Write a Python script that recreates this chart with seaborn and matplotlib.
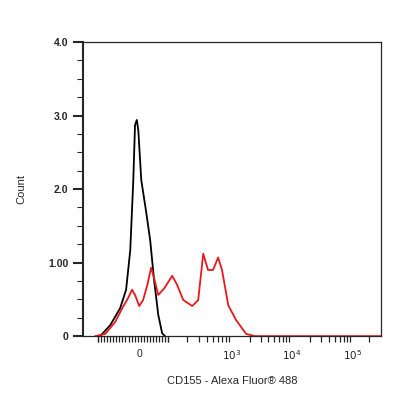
import numpy as np
import pandas as pd
import matplotlib
matplotlib.use("Agg")
import matplotlib.pyplot as plt
import seaborn as sns

# Channel positions on the display scale (0-100 across the axis)
control_x = [5.7, 9.1, 12.4, 14.4, 15.8, 16.8, 17.4, 18.0, 18.5, 19.5, 21.1, 22.5, 23.8, 25.2, 26.5, 27.5]
control_y = [0, 0.15, 0.38, 0.63, 1.17, 2.1, 2.87, 2.94, 2.8, 2.12, 1.7, 1.3, 0.76, 0.29, 0.04, 0]
stained_x = [4.0, 7.4, 10.7, 13.1, 15.1, 16.4, 17.4, 18.8, 20.1, 21.5, 22.8, 23.8, 25.2, 27.2, 29.9,
             31.5, 33.6, 36.6, 38.6, 40.3, 41.9, 43.6, 45.3, 46.6, 48.7, 51.3, 54.7, 57.7, 100]
stained_y = [0, 0.03, 0.19, 0.38, 0.52, 0.63, 0.56, 0.41, 0.49, 0.69, 0.93, 0.79, 0.56, 0.65, 0.82,
             0.7, 0.49, 0.41, 0.49, 1.12, 0.9, 0.9, 1.07, 0.9, 0.42, 0.22, 0.03, 0, 0]

x_label_pos = [18.8, 50.0, 70.1, 90.6]
x_labels = ["0", "$10^3$", "$10^4$", "$10^5$"]
y_ticks = [0, 1, 2, 3, 4]
y_labels = ["0", "1.00", "2.0", "3.0", "4.0"]

sns.set_style("ticks")
plt.rcParams["font.family"] = ["Liberation Sans", "DejaVu Sans"]

fig = plt.figure(figsize=(4.16, 4.16), dpi=100)
ax = fig.add_axes([0.2, 0.192, 0.716, 0.707])

ctrl = pd.DataFrame({"x": control_x, "y": control_y})
stn = pd.DataFrame({"x": stained_x, "y": stained_y})
sns.lineplot(data=ctrl, x="x", y="y", sort=False, color="black", lw=1.3, ax=ax)
sns.lineplot(data=stn, x="x", y="y", sort=False, color="#e8191b", lw=1.3, ax=ax)

ax.set_xlim(0, 100)
ax.set_ylim(0, 4)
ax.set_yticks(y_ticks)
ax.set_yticklabels(y_labels, fontsize=7.5, fontweight="bold")
ax.set_yticks(np.arange(0, 4.01, 0.25), minor=True)
ax.set_xticks(x_label_pos)
ax.set_xticklabels(x_labels, fontsize=7.5)
ax.tick_params(axis="x", which="major", length=0, pad=9)
ax.tick_params(axis="y", which="major", length=7, width=1.5)
ax.tick_params(axis="y", which="minor", length=4, width=0.8)

# minor tick marks along x (biexponential-like layout)
minor = [5.0, 28.5, 50.0, 70.1, 90.6]
for a, b in [(28.5, 50.0), (50.0, 70.1), (70.1, 90.6)]:
    minor += [a + (b - a) * np.log10(k) for k in range(2, 10)]
minor += list(np.linspace(5.0, 28.5, 24))
minor += [96.0]
ax.set_xticks(minor, minor=True)
ax.tick_params(axis="x", which="minor", length=4, width=0.9)

for s in ["top", "right", "bottom"]:
    ax.spines[s].set_linewidth(0.9)
ax.spines["left"].set_linewidth(1.5)

ax.set_xlabel("CD155 - Alexa Fluor® 488", fontsize=8, labelpad=10)
ax.set_ylabel("Count", fontsize=8, labelpad=16)

fig.savefig("out.png", dpi=100)
